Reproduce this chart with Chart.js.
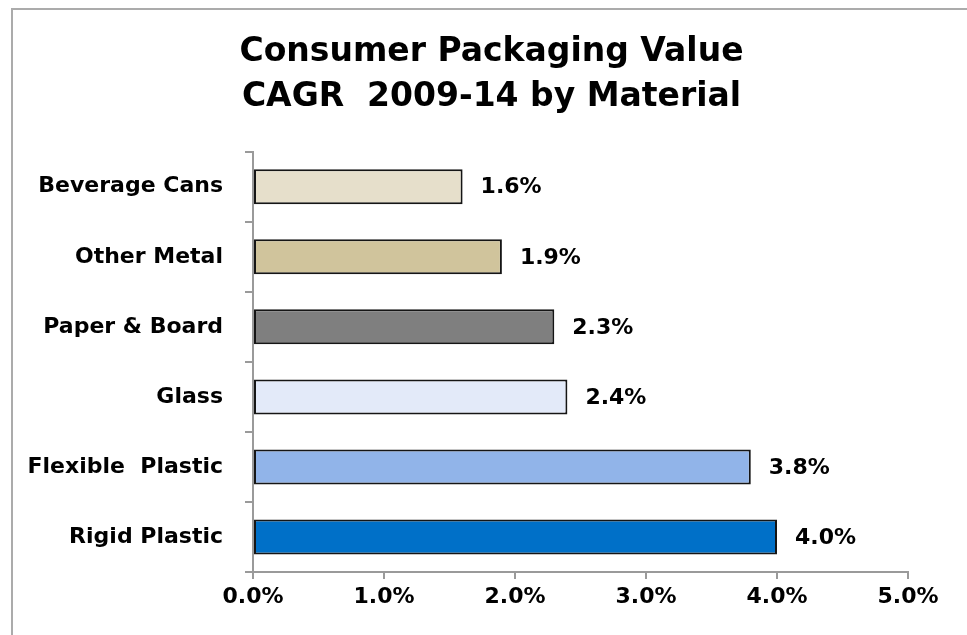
<!DOCTYPE html>
<html>
<head>
<meta charset="utf-8">
<script src="https://cdn.jsdelivr.net/npm/chart.js@4"></script>
<style>
  html, body { margin: 0; padding: 0; background: #fff; overflow: hidden; }
  #frame { position: absolute; left: 11px; top: 8px; width: 1000px; height: 700px;
           border-top: 2px solid #ababab; border-left: 2px solid #ababab; }
  #wrap { position: absolute; left: 0; top: 0; width: 967px; height: 635px; }
</style>
</head>
<body>
<div id="frame"></div>
<div id="wrap"><canvas id="myChart"></canvas></div>
<script>
var materials = ['Beverage Cans', 'Other Metal', 'Paper & Board', 'Glass', 'Flexible  Plastic', 'Rigid Plastic'];
var cagr = [1.6, 1.9, 2.3, 2.4, 3.8, 4.0];
var barColors = ['#e6dfcb', '#d0c49c', '#7f7f7f', '#e3eaf9', '#91b4e9', '#0070c8'];
var xTicks = [0, 1, 2, 3, 4, 5];

var fontFamily = '"DejaVu Sans", Verdana, sans-serif';

// draws the value next to each bar
var valueLabels = {
  id: 'valueLabels',
  afterDatasetsDraw: function(chart) {
    var ctx = chart.ctx;
    var meta = chart.getDatasetMeta(0);
    ctx.save();
    ctx.font = 'bold 22px ' + fontFamily;
    ctx.fillStyle = '#000';
    ctx.textAlign = 'left';
    ctx.textBaseline = 'middle';
    meta.data.forEach(function(bar, i) {
      ctx.fillText(cagr[i].toFixed(1) + '%', bar.x + 18, bar.y + 1);
    });
    ctx.restore();
  }
};

var ctx = document.getElementById('myChart').getContext('2d');
var myChart = new Chart(ctx, {
  type: 'bar',
  data: {
    labels: materials,
    datasets: [{
      data: cagr,
      backgroundColor: barColors,
      borderColor: '#151515',
      borderWidth: 2,
      borderSkipped: false,
      categoryPercentage: 1,
      barPercentage: 0.5
    }]
  },
  plugins: [valueLabels],
  options: {
    indexAxis: 'y',
    responsive: true,
    maintainAspectRatio: false,
    animation: false,
    layout: { padding: { left: 16, right: 0, top: 0, bottom: 0 } },
    plugins: {
      legend: { display: false },
      tooltip: { enabled: false },
      title: {
        display: true,
        text: ['Consumer Packaging Value', 'CAGR  2009-14 by Material'],
        color: '#000',
        font: { family: fontFamily, size: 33, weight: 'bold', lineHeight: 1.36 },
        padding: { top: 30, bottom: 32 }
      }
    },
    scales: {
      x: {
        min: 0,
        max: 5,
        afterBuildTicks: function(scale) {
          scale.ticks = xTicks.map(function(v) { return { value: v }; });
        },
        afterFit: function(scale) { scale.height = 63; },
        border: { color: '#9a9a9a', width: 2 },
        grid: { drawOnChartArea: false, drawTicks: true, tickLength: 7, color: '#9a9a9a', lineWidth: 2 },
        ticks: {
          color: '#000',
          padding: 5,
          font: { family: fontFamily, size: 22, weight: 'bold' },
          callback: function(v) { return Number(v).toFixed(1) + '%'; }
        }
      },
      y: {
        afterFit: function(scale) { scale.width = 237; },
        border: { color: '#9a9a9a', width: 2 },
        grid: { drawOnChartArea: false, drawTicks: true, tickLength: 8, color: '#9a9a9a', lineWidth: 2 },
        ticks: {
          color: '#000',
          padding: 22,
          font: { family: fontFamily, size: 22, weight: 'bold' }
        }
      },
      // empty right-hand axis, only reserves space after the 5% tick
      yRight: {
        axis: 'y',
        position: 'right',
        afterFit: function(scale) { scale.width = 59; },
        border: { display: false },
        grid: { display: false },
        ticks: { display: false }
      }
    }
  }
});
</script>
</body>
</html>
